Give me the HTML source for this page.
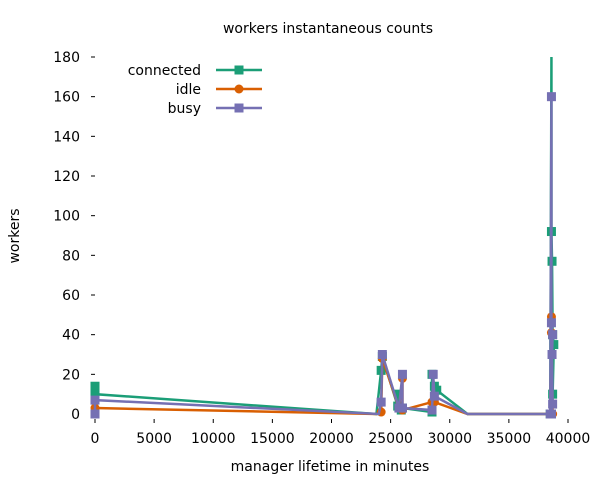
<!DOCTYPE html>
<html><head><meta charset="utf-8"><style>
body{margin:0;background:#fff}
svg text{font-family:"DejaVu Sans","Liberation Sans",sans-serif;font-size:14px;fill:#000}
</style></head><body>
<svg width="600" height="480" id="c">
<text x="328" y="33" text-anchor="middle">workers instantaneous counts</text>
<text x="330" y="471" text-anchor="middle">manager lifetime in minutes</text>
<text transform="translate(19,236) rotate(-90)" text-anchor="middle">workers</text>
<g id="axes"></g><g id="plot"></g><g id="legend"></g>
</svg>
<script>
const xTicks=[0,5000,10000,15000,20000,25000,30000,35000,40000];
const yTicks=[0,20,40,60,80,100,120,140,160,180];
const seriesNames=["connected","idle","busy"];
const connected=[[0,0],[0,14],[0,10],[23800,0],[24200,22],[24300,29],[25600,4],[25700,10],[25900,2],[26000,3],[28500,1],[28500,20],[28700,14],[28900,12],[31500,0],[38500,0],[38600,180],[38600,92],[38650,77],[38700,40],[38800,35],[38700,10],[38600,0]];
const idle=[[0,3],[23800,0],[24200,1],[24300,28],[25700,3],[26000,18],[26000,2],[28500,6],[28600,0],[28700,6],[31500,0],[38500,0],[38600,49],[38600,41],[38700,0]];
const busy=[[0,0],[0,7],[24000,0],[24200,6],[24300,30],[25700,3],[26000,20],[26000,3],[28500,2],[28600,20],[28700,9],[31500,0],[38500,0],[38600,160],[38600,46],[38700,40],[38650,30],[38700,5],[38600,0]];
const colors=["#1b9e77","#d95f02","#7570b3"];
const X=v=>95+v*(568-95)/40000, Y=v=>414-v*(414-57)/180;
const NS="http://www.w3.org/2000/svg";
function mk(t,a,p){const e=document.createElementNS(NS,t);for(const k in a)e.setAttribute(k,a[k]);p.appendChild(e);return e;}
const ax=document.getElementById('axes');
yTicks.forEach(v=>{const t=mk('text',{x:80,y:Y(v)+5,'text-anchor':'end'},ax);t.textContent=v;


const l=mk('line',{x1:91,x2:95,y1:Y(v),y2:Y(v),stroke:'#000'},ax);

});
xTicks.forEach(v=>{const t=mk('text',{x:X(v),y:443,'text-anchor':'middle'},ax);t.textContent=v;


const l=mk('line',{x1:X(v),x2:X(v),y1:419,y2:423,stroke:'#000'},ax);

});
const pl=document.getElementById('plot'),lg=document.getElementById('legend');
[connected,idle,busy].forEach((d,i)=>{
const g=mk('g',{},pl);


const p=mk('polyline',{points:d.map(q=>X(q[0])+','+Y(q[1])).join(' '),fill:'none',stroke:colors[i],'stroke-width':2.5},g);


d.forEach((q,k)=>{
if(q[1]>=170)return;
if(q[1]===0&&q[0]>20000&&q[0]<38000)return;
let m;
if(i==1)m=mk('circle',{cx:X(q[0]),cy:Y(q[1]),r:4.5,fill:colors[i]},g);
else m=mk('rect',{x:X(q[0])-4.5,y:Y(q[1])-4.5,width:9,height:9,fill:colors[i]},g);

});
const ly=70+i*19;
const t=mk('text',{x:201,y:ly+5,'text-anchor':'end'},lg);t.textContent=seriesNames[i];


const l=mk('line',{x1:216,x2:262,y1:ly,y2:ly,stroke:colors[i],'stroke-width':2.5},lg);


let m;
if(i==1)m=mk('circle',{cx:239,cy:ly,r:4.5,fill:colors[i]},lg);
else m=mk('rect',{x:234.5,y:ly-4.5,width:9,height:9,fill:colors[i]},lg);


});
</script>
</body></html>
